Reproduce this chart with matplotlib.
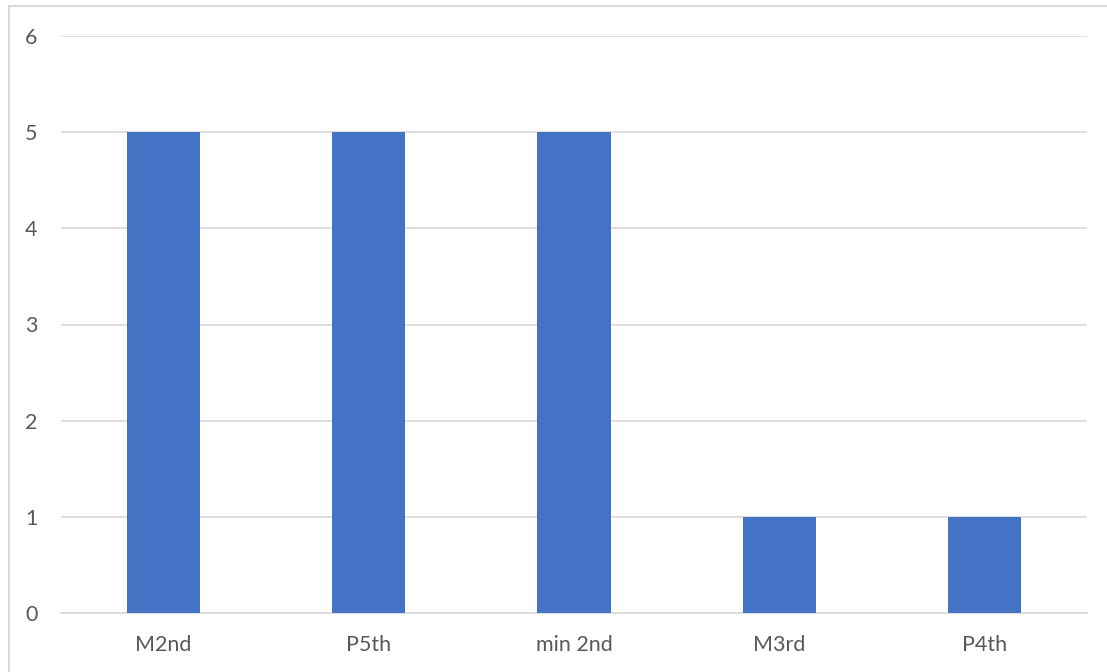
import matplotlib
matplotlib.use("Agg")
import matplotlib.pyplot as plt
from matplotlib.patches import Rectangle

categories = ["M2nd", "P5th", "min 2nd", "M3rd", "P4th"]
values = [5, 5, 5, 1, 1]
yticks = [0, 1, 2, 3, 4, 5, 6]

W, H = 1107, 672
fig = plt.figure(figsize=(W / 100, H / 100), dpi=100)
plt.rcParams['font.family'] = ['Lato', 'DejaVu Sans']

left, right, bottom, top = 61, 1087, 613, 36
ax = fig.add_axes([left / W, 1 - bottom / H, (right - left) / W, (bottom - top) / H])

x = range(len(categories))
ax.bar(x, values, width=0.356, color="#4472C4", zorder=3)
ax.set_xlim(-0.5, len(categories) - 0.5)
ax.set_ylim(0, 6)
ax.set_yticks(yticks)
ax.set_yticklabels([str(t) for t in yticks])
ax.set_xticks(list(x))
ax.set_xticklabels(categories)
ax.grid(axis="y", color="#d9d9d9", linewidth=1.2, zorder=0)
for s in ["top", "right", "left"]:
    ax.spines[s].set_visible(False)
ax.spines["bottom"].set_color("#d9d9d9")
ax.spines["bottom"].set_linewidth(1.2)
ax.tick_params(axis="both", length=0, labelsize=15.5, colors="#595959")
ax.tick_params(axis="y", pad=17)
ax.tick_params(axis="x", pad=16)

# chart border
fig.patches.append(Rectangle((9 / W, -0.1), 1.2, 1 - 6 / H + 0.1,
                             transform=fig.transFigure, fill=False,
                             edgecolor="#d9d9d9", linewidth=1.5))

fig.savefig("out.png", dpi=100)
